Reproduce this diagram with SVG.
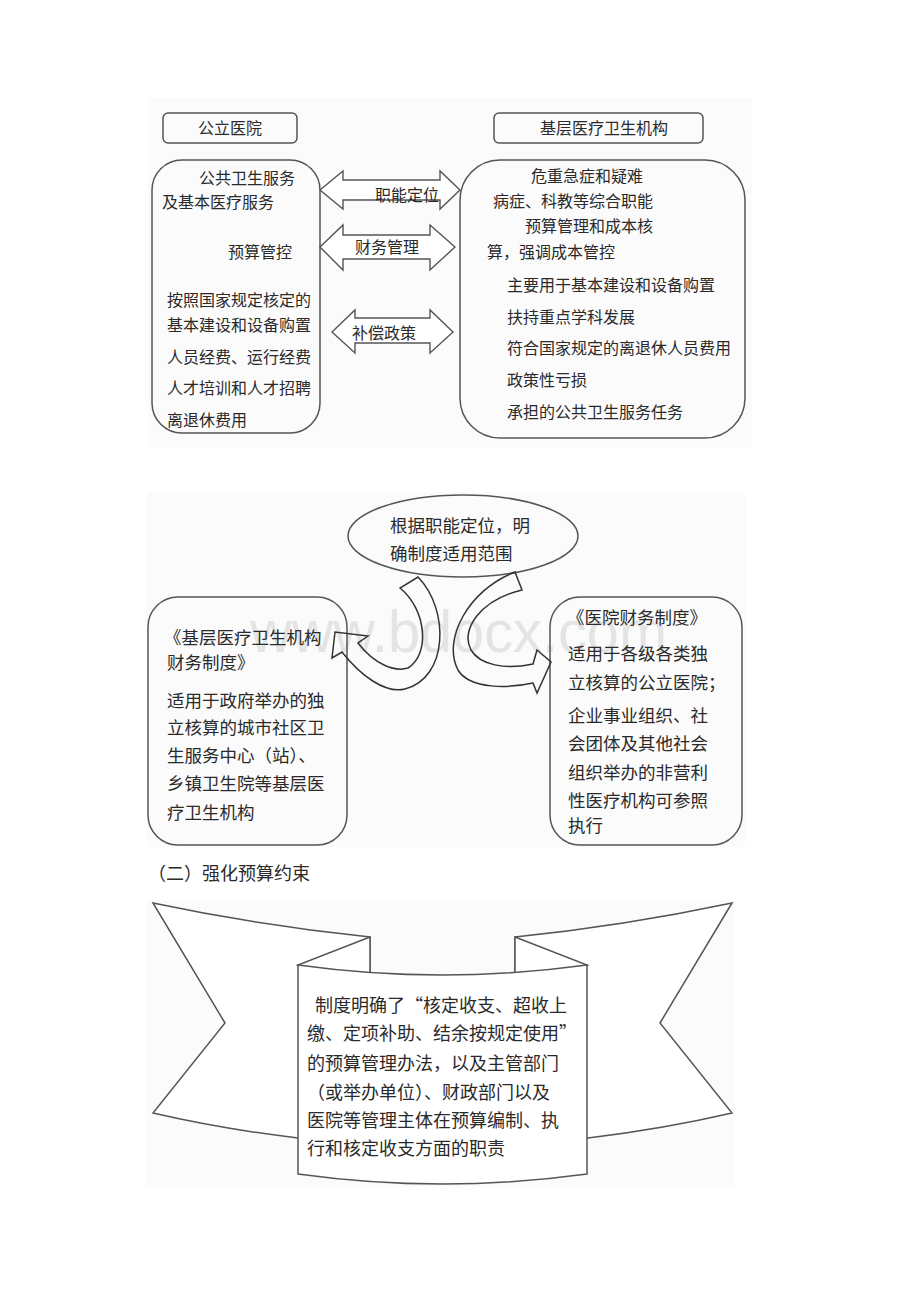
<svg xmlns="http://www.w3.org/2000/svg" width="920" height="1302" viewBox="0 0 920 1302">
<style>
.bg{fill:#fbfbfb;stroke:none}
.box{fill:none;stroke:#555;stroke-width:1.5}
.shape{fill:#fff;stroke:#555;stroke-width:1.5;stroke-linejoin:miter}
.arr{fill:#fff;stroke:#555;stroke-width:1.4;stroke-linejoin:miter}
.carr{fill:none;stroke:#333;stroke-width:1.5;stroke-linejoin:miter}
text{font-family:"Noto Sans CJK SC","Noto Sans",sans-serif;fill:#2a2a2a}
.t16{font-size:16px}
.t17{font-size:17.5px}
.t18{font-size:18px}
.wm{font-family:"Liberation Sans",Arial,sans-serif;font-size:60px;fill:#e4e4e4}
</style>
<rect width="920" height="1302" fill="#fff"/>
<rect class="bg" x="148" y="98" width="604" height="350"/>
<rect class="bg" x="147" y="492" width="598" height="355"/>
<rect class="bg" x="147" y="900" width="588" height="287"/>

<g id="title-public-hospital">
<rect class="box" x="163" y="113" width="134" height="30" rx="5"/>
<text class="t16" x="230" y="134" text-anchor="middle">公立医院</text>
</g>
<g id="title-grassroots">
<rect class="box" x="494" y="113" width="209" height="30" rx="5"/>
<text class="t16" x="604" y="134" text-anchor="middle">基层医疗卫生机构</text>
</g>
<g id="node-public-hospital">
<rect class="box" x="152" y="160" width="168" height="273" rx="30"/>
<text class="t16" x="199" y="184">公共卫生服务</text>
<text class="t16" x="162" y="208">及基本医疗服务</text>
<text class="t16" x="228" y="258">预算管控</text>
<text class="t16" x="167" y="306">按照国家规定核定的</text>
<text class="t16" x="167" y="331">基本建设和设备购置</text>
<text class="t16" x="167" y="363">人员经费、运行经费</text>
<text class="t16" x="167" y="394">人才培训和人才招聘</text>
<text class="t16" x="167" y="426">离退休费用</text>
</g>
<g id="node-grassroots">
<rect class="box" x="460" y="160" width="285" height="278" rx="40"/>
<text class="t16" x="531" y="182">危重急症和疑难</text>
<text class="t16" x="493" y="207">病症、科教等综合职能</text>
<text class="t16" x="525" y="232">预算管理和成本核</text>
<text class="t16" x="487" y="258">算，强调成本管控</text>
<text class="t16" x="507" y="291">主要用于基本建设和设备购置</text>
<text class="t16" x="507" y="323">扶持重点学科发展</text>
<text class="t16" x="507" y="354">符合国家规定的离退休人员费用</text>
<text class="t16" x="507" y="386">政策性亏损</text>
<text class="t16" x="507" y="418">承担的公共卫生服务任务</text>
</g>

<text class="wm" x="250" y="652" textLength="417" lengthAdjust="spacingAndGlyphs">www.bdocx.com</text>

<g id="node-ellipse">
<ellipse class="box" cx="463" cy="536" rx="115" ry="41"/>
<text class="t17" x="390" y="532">根据职能定位，明</text>
<text class="t17" x="390" y="560">确制度适用范围</text>
</g>
<g id="node-grassroots-rules">
<rect class="box" x="148" y="597" width="199" height="248" rx="30"/>
<text class="t17" x="164" y="644">《基层医疗卫生机构</text>
<text class="t17" x="167" y="669">财务制度》</text>
<text class="t17" x="167" y="707">适用于政府举办的独</text>
<text class="t17" x="167" y="734">立核算的城市社区卫</text>
<text class="t17" x="167" y="762">生服务中心（站）、</text>
<text class="t17" x="167" y="790">乡镇卫生院等基层医</text>
<text class="t17" x="167" y="819">疗卫生机构</text>
</g>
<g id="node-hospital-rules">
<rect class="box" x="550" y="597" width="192" height="248" rx="30"/>
<text class="t17" x="567" y="624">《医院财务制度》</text>
<text class="t17" x="568" y="660">适用于各级各类独</text>
<text class="t17" x="568" y="689">立核算的公立医院；</text>
<text class="t17" x="568" y="722">企业事业组织、社</text>
<text class="t17" x="568" y="750">会团体及其他社会</text>
<text class="t17" x="568" y="779">组织举办的非营利</text>
<text class="t17" x="568" y="807">性医疗机构可参照</text>
<text class="t17" x="568" y="832">执行</text>
</g>

<g id="connectors">
<path class="arr" d="M320,190 L343,171 L343,180 L440,180 L440,171 L460,190 L440,209 L440,200 L343,200 L343,209 Z"/>
<text class="t16" x="375" y="201">职能定位</text>
<path class="arr" d="M320,247 L343,225 L343,235 L430,235 L430,225 L455,247 L430,270 L430,259 L343,259 L343,270 Z"/>
<text class="t16" x="355" y="253">财务管理</text>
<path class="arr" d="M332,332 L355,310 L355,318 L430,318 L430,310 L453,332 L430,353 L430,343 L355,343 L355,353 Z"/>
<text class="t16" x="352" y="339">补偿政策</text>
<path class="carr" d="M418,577 C450,610 448,678 405,689 C385,694 360,675 342,652 L332,658 L335,632 L368,636 L358,643 C375,665 395,672 408,668 C430,655 427,610 400,588 Z"/>
<path class="carr" d="M515,572 C468,590 442,640 458,670 C470,690 510,688 533,683 L537,693 L551,662 L537,650 L533,664 C505,670 480,665 471,650 C460,630 480,600 522,590 Z"/>
</g>

<text id="heading" class="t18" x="148" y="880">（二）强化预算约束</text>
<g id="node-ribbon">
<path class="shape" d="M153,903 Q262,926 370,937 L370,1100 L298,1138 Q222,1129 153,1113 L225,1023 Z"/>
<path class="shape" d="M732,903 Q623,926 515,937 L515,1100 L588,1138 Q663,1129 732,1113 L660,1023 Z"/>
<path class="shape" d="M370,937 L298,965 L370,980 Z"/>
<path class="shape" d="M515,937 L587,965 L515,980 Z"/>
<path class="shape" d="M298,965 Q442,985 587,965 L587,1174 Q442,1194 298,1174 Z"/>
<text class="t18" x="315" y="1012">制度明确了“核定收支、超收上</text>
<text class="t18" x="307" y="1040">缴、定项补助、结余按规定使用”</text>
<text class="t18" x="307" y="1070">的预算管理办法，以及主管部门</text>
<text class="t18" x="307" y="1099">（或举办单位）、财政部门以及</text>
<text class="t18" x="307" y="1127">医院等管理主体在预算编制、执</text>
<text class="t18" x="307" y="1155">行和核定收支方面的职责</text>
</g>
</svg>
